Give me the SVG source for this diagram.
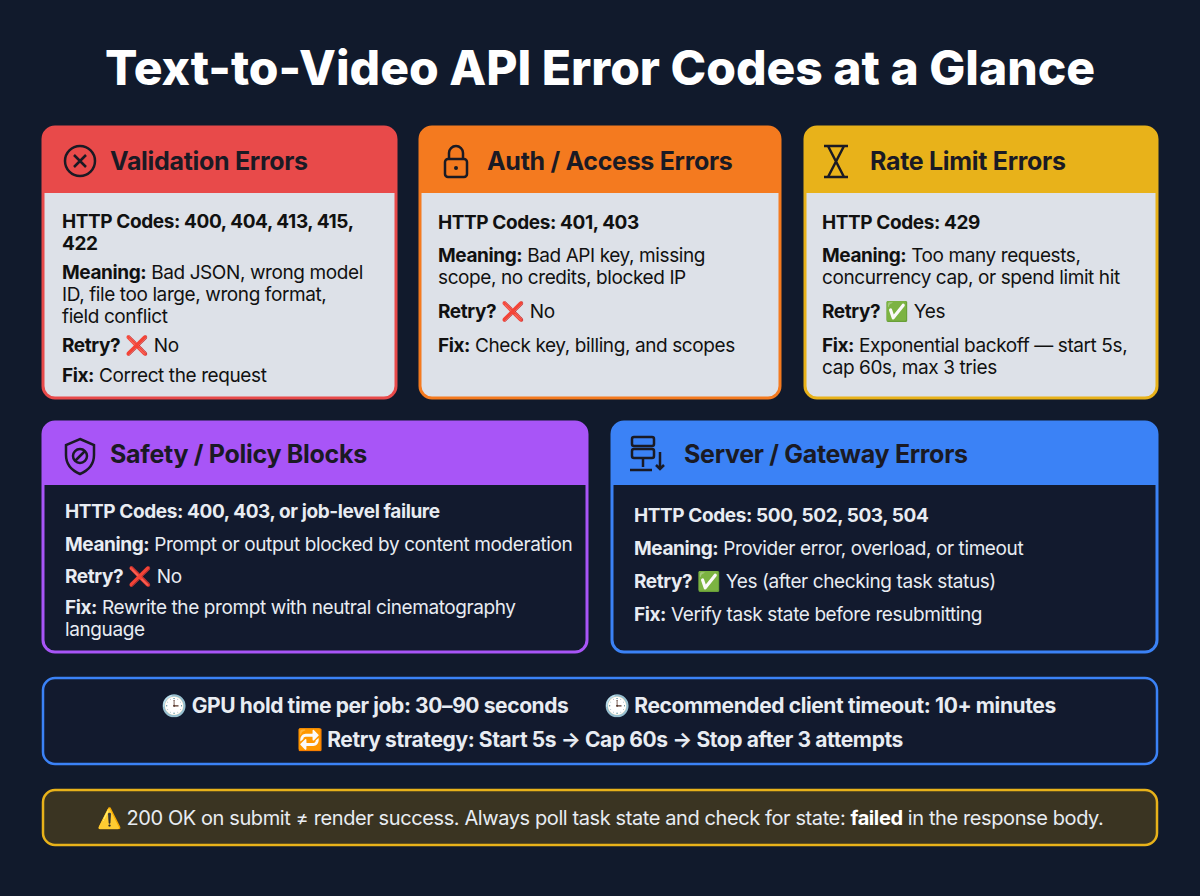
<svg xmlns="http://www.w3.org/2000/svg" width="1200" height="896" viewBox="0 0 1200 896">
<style>
text{font-family:Inter,"Liberation Sans",sans-serif}
.t{font-size:48px;font-weight:800;fill:#fff}
.h{font-size:25px;font-weight:700;fill:#1a1a24;letter-spacing:-0.3px}
.b{font-size:19px;fill:#111;letter-spacing:-0.4px}
.w{font-size:19px;fill:#e8ecf2;letter-spacing:-0.4px}
.B{font-weight:700}
.ic{fill:none;stroke:#1a1a24;stroke-width:2.5}
</style>
<rect width="1200" height="896" fill="#111a2c"/>
<text class="t" x="600" y="85" text-anchor="middle">Text-to-Video API Error Codes at a Glance</text>

<g id="validation">
<rect x="43" y="127" width="353" height="271" rx="12" fill="#dde1e8" stroke="#e84a4a" stroke-width="3"/>
<path d="M43,193 V139 a12,12 0 0 1 12,-12 H384 a12,12 0 0 1 12,12 V193 Z" fill="#e84a4a"/>
<circle class="ic" cx="80" cy="161" r="15"/><path class="ic" d="M74,155 L86,167 M86,155 L74,167"/>
<text class="h" x="110" y="170">Validation Errors</text>
<text class="b B" x="62" y="228">HTTP Codes: 400, 404, 413, 415,</text>
<text class="b B" x="62" y="250">422</text>
<text class="b" x="62" y="279"><tspan class="B">Meaning:</tspan> Bad JSON, wrong model</text>
<text class="b" x="62" y="301">ID, file too large, wrong format,</text>
<text class="b" x="62" y="323">field conflict</text>
<text class="b" x="62" y="352"><tspan class="B">Retry?</tspan> <tspan fill="#e02424">❌</tspan> No</text>
<text class="b" x="62" y="382"><tspan class="B">Fix:</tspan> Correct the request</text>
</g>

<g id="auth">
<rect x="420" y="127" width="360" height="271" rx="12" fill="#dde1e8" stroke="#f47a1f" stroke-width="3"/>
<path d="M420,193 V139 a12,12 0 0 1 12,-12 H768 a12,12 0 0 1 12,12 V193 Z" fill="#f47a1f"/>
<rect class="ic" x="445" y="159" width="22" height="18" rx="3"/><path class="ic" d="M449,159 v-6 a7,7 0 0 1 14,0 v6"/><circle cx="456" cy="168" r="2" fill="#1a1a24"/>
<text class="h" x="487" y="170">Auth / Access Errors</text>
<text class="b B" x="438" y="229">HTTP Codes: 401, 403</text>
<text class="b" x="438" y="262"><tspan class="B">Meaning:</tspan> Bad API key, missing</text>
<text class="b" x="438" y="284">scope, no credits, blocked IP</text>
<text class="b" x="438" y="318"><tspan class="B">Retry?</tspan> <tspan fill="#e02424">❌</tspan> No</text>
<text class="b" x="438" y="352"><tspan class="B">Fix:</tspan> Check key, billing, and scopes</text>
</g>

<g id="rate">
<rect x="805" y="127" width="352" height="271" rx="12" fill="#dde1e8" stroke="#e8b21a" stroke-width="3"/>
<path d="M805,193 V139 a12,12 0 0 1 12,-12 H1145 a12,12 0 0 1 12,12 V193 Z" fill="#e8b21a"/>
<path class="ic" d="M824,146 H848 M824,177 H848 M828,146 L844,177 M844,146 L828,177"/>
<text class="h" x="870" y="170">Rate Limit Errors</text>
<text class="b B" x="822" y="229">HTTP Codes: 429</text>
<text class="b" x="822" y="262"><tspan class="B">Meaning:</tspan> Too many requests,</text>
<text class="b" x="822" y="284">concurrency cap, or spend limit hit</text>
<text class="b" x="822" y="318"><tspan class="B">Retry?</tspan> <tspan fill="#22a04a">✅</tspan> Yes</text>
<text class="b" x="822" y="352"><tspan class="B">Fix:</tspan> Exponential backoff — start 5s,</text>
<text class="b" x="822" y="374">cap 60s, max 3 tries</text>
</g>

<g id="safety">
<rect x="43" y="422" width="544" height="230" rx="12" fill="#121a2e" stroke="#a855f7" stroke-width="3"/>
<path d="M43,485 V434 a12,12 0 0 1 12,-12 H575 a12,12 0 0 1 12,12 V485 Z" fill="#a855f7"/>
<path class="ic" d="M80,439 L94,445 V455 C94,465 87,471 80,474 C73,471 66,465 66,455 V445 Z"/><circle class="ic" cx="80" cy="456" r="7"/><path class="ic" d="M75,461 L85,451"/>
<text class="h" x="110" y="463">Safety / Policy Blocks</text>
<text class="w B" x="65" y="518">HTTP Codes: 400, 403, or job-level failure</text>
<text class="w" x="65" y="551"><tspan class="B">Meaning:</tspan> Prompt or output blocked by content moderation</text>
<text class="w" x="65" y="583"><tspan class="B">Retry?</tspan> <tspan fill="#e02424">❌</tspan> No</text>
<text class="w" x="65" y="614"><tspan class="B">Fix:</tspan> Rewrite the prompt with neutral cinematography</text>
<text class="w" x="65" y="636">language</text>
</g>

<g id="server">
<rect x="612" y="422" width="545" height="230" rx="12" fill="#121a2e" stroke="#3b82f6" stroke-width="3"/>
<path d="M612,485 V434 a12,12 0 0 1 12,-12 H1145 a12,12 0 0 1 12,12 V485 Z" fill="#3b82f6"/>
<rect class="ic" x="632" y="437" width="22" height="9" rx="2"/><rect class="ic" x="632" y="449" width="22" height="9" rx="2"/><path class="ic" d="M643,458 V467 M630,470 H652 M660,452 V469 M656,465 L660,469 L664,465"/>
<text class="h" x="684" y="463">Server / Gateway Errors</text>
<text class="w B" x="634" y="522">HTTP Codes: 500, 502, 503, 504</text>
<text class="w" x="634" y="555"><tspan class="B">Meaning:</tspan> Provider error, overload, or timeout</text>
<text class="w" x="634" y="588"><tspan class="B">Retry?</tspan> <tspan fill="#22a04a">✅</tspan> Yes (after checking task status)</text>
<text class="w" x="634" y="621"><tspan class="B">Fix:</tspan> Verify task state before resubmitting</text>
</g>

<g id="info">
<rect x="43" y="678" width="1114" height="86" rx="12" fill="#121a2e" stroke="#3b82f6" stroke-width="2.5"/>
<text class="w B" x="365" y="713" text-anchor="middle" style="font-size:21px">🕒 GPU hold time per job: 30–90 seconds</text>
<text class="w B" x="830" y="713" text-anchor="middle" style="font-size:21px">🕒 Recommended client timeout: 10+ minutes</text>
<text class="w B" x="600" y="747" text-anchor="middle" style="font-size:21px">🔁 Retry strategy: Start 5s → Cap 60s → Stop after 3 attempts</text>
</g>

<g id="warning">
<rect x="43" y="790" width="1114" height="55" rx="12" fill="#3a3422" stroke="#e8b21a" stroke-width="2.5"/>
<text class="w" x="600" y="825" text-anchor="middle" style="font-size:20px">⚠️ 200 OK on submit ≠ render success. Always poll task state and check for state: <tspan class="B" fill="#fff">failed</tspan> in the response body.</text>
</g>
<g id="connectors"/>
</svg>
